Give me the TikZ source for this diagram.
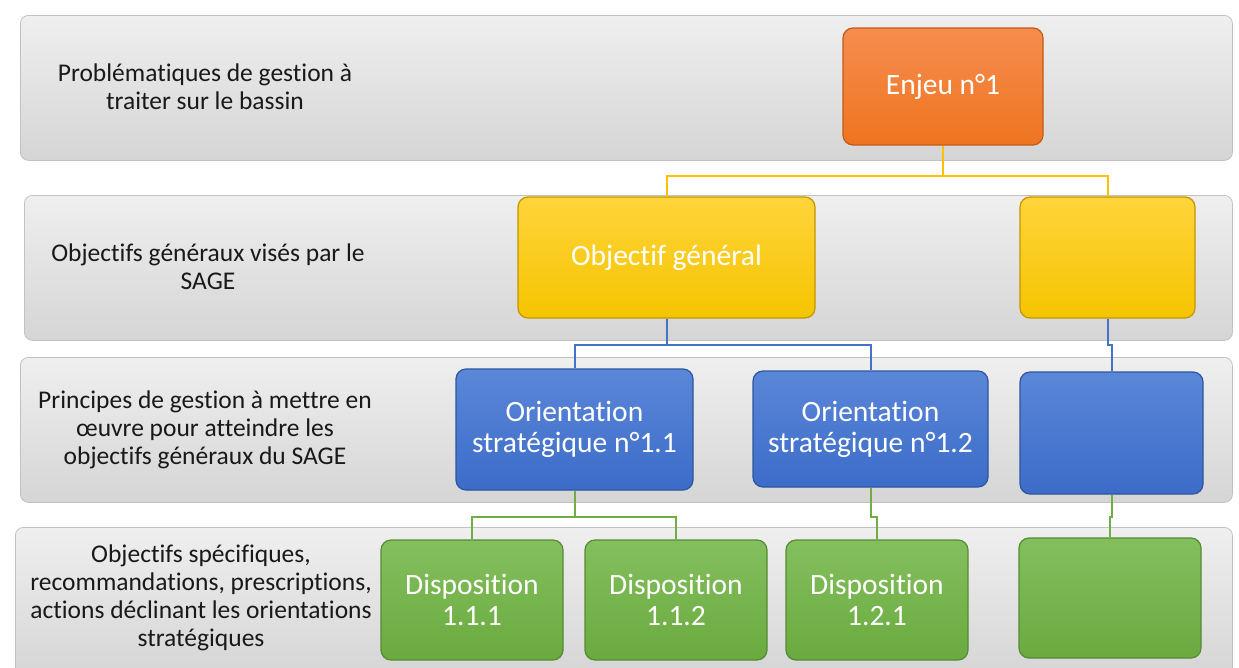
\documentclass[tikz,border=0pt]{standalone}
\usepackage{fontspec}
\setmainfont{Carlito}[Ligatures=NoCommon]
\usetikzlibrary{positioning}

\definecolor{bandtop}{HTML}{EFEFEF}
\definecolor{bandbot}{HTML}{D5D5D5}
\definecolor{bandline}{HTML}{C2C2C2}
\definecolor{ortop}{HTML}{F68D4F}
\definecolor{orbot}{HTML}{EE741F}
\definecolor{orline}{HTML}{C45A16}
\definecolor{yetop}{HTML}{FFD43B}
\definecolor{yebot}{HTML}{F5C400}
\definecolor{yeline}{HTML}{C29600}
\definecolor{bltop}{HTML}{5B87D8}
\definecolor{blbot}{HTML}{3C6CC9}
\definecolor{blline}{HTML}{2D569E}
\definecolor{grtop}{HTML}{84BF5E}
\definecolor{grbot}{HTML}{6AAA3F}
\definecolor{grline}{HTML}{558B33}
\definecolor{yelink}{HTML}{FFC000}
\definecolor{bllink}{HTML}{4472C4}
\definecolor{grlink}{HTML}{70AD47}

\begin{document}
\begin{tikzpicture}[x=1pt,y=-1pt,
        band/.style={rectangle,rounded corners=8pt,draw=bandline,line width=0.8pt,
                     top color=bandtop,bottom color=bandbot,anchor=north west,inner sep=0pt},
        band text/.style={align=center,text=black!90,font=\fontsize{25.5}{28}\selectfont},
        main node/.style={rectangle,rounded corners=10pt,line width=1.2pt,text=white,
                     align=center,inner sep=2pt,font=\fontsize{29.5}{31}\selectfont},
        enjeu node/.style={main node,draw=orline,top color=ortop,bottom color=orbot},
        objectif node/.style={main node,draw=yeline,top color=yetop,bottom color=yebot},
        orient node/.style={main node,draw=blline,top color=bltop,bottom color=blbot},
        dispo node/.style={main node,draw=grline,top color=grtop,bottom color=grbot},
        link/.style={line width=2pt}]

\useasboundingbox (0,0) rectangle (1239,667);

% bandes grises
\foreach \n/\x/\y/\w/\h in {1/20/15/1212/145, 2/24/195/1208/145, 3/20/357/1212/145, 4/15/527/1217/150}
  \node (band\n) [band,minimum width=\w pt,minimum height=\h pt] at (\x,\y) {};

% libelles des niveaux
\node (lab1) [band text] at (205,87)  {Problématiques de gestion à\\traiter sur le bassin};
\node (lab2) [band text] at (208,267) {Objectifs généraux visés par le\\SAGE};
\node (lab3) [band text] at (205,430) {Principes de gestion à mettre en\\œuvre pour atteindre les\\objectifs généraux du SAGE};
\node (lab4) [band text] at (201,598) {Objectifs spécifiques,\\recommandations, prescriptions,\\actions déclinant les orientations\\stratégiques};

% boites
\node (enjeu) [enjeu node,minimum width=200pt,minimum height=117pt] at (943,86.5) {Enjeu n°1};

\node (og) [objectif node,minimum width=297pt,minimum height=121pt] at (666.5,257.5) {Objectif général};
\node (ry) [objectif node,minimum width=175pt,minimum height=121pt] at (1107.5,257.5) {};

\node (or11) [orient node,minimum width=237pt,minimum height=121pt] at (574.5,429.5) {Orientation\\stratégique n°1.1};
\node (or12) [orient node,minimum width=235pt,minimum height=116pt] at (870.5,429) {Orientation\\stratégique n°1.2};
\node (rb) [orient node,minimum width=183pt,minimum height=122pt] at (1111.5,433) {};

\node (d111) [dispo node,minimum width=182pt,minimum height=120pt] at (472,600) {Disposition\\1.1.1};
\node (d112) [dispo node,minimum width=182pt,minimum height=120pt] at (676,600) {Disposition\\1.1.2};
\node (d121) [dispo node,minimum width=182pt,minimum height=120pt] at (877,600) {Disposition\\1.2.1};
\node (rg) [dispo node,minimum width=182pt,minimum height=120pt] at (1110,598) {};

% liaisons
\draw[link,yelink] (enjeu.south) -- ++(0,30) -| (og.north);
\draw[link,yelink] (enjeu.south) -- ++(0,30) -| (ry.north);

\draw[link,bllink] (og.south) -- ++(0,26) -| (or11.north);
\draw[link,bllink] (og.south) -- ++(0,26) -| (or12.north);
\draw[link,bllink] (ry.south) -- ++(0,26) -| (rb.north);

\draw[link,grlink] (or11.south) -- ++(0,26) -| (d111.north);
\draw[link,grlink] (or11.south) -- ++(0,26) -| (d112.north);
\draw[link,grlink] (or12.south) -- ++(0,29) -| (d121.north);
\draw[link,grlink] (rb.south) -- ++(0,22) -| (rg.north);

\end{tikzpicture}
\end{document}
